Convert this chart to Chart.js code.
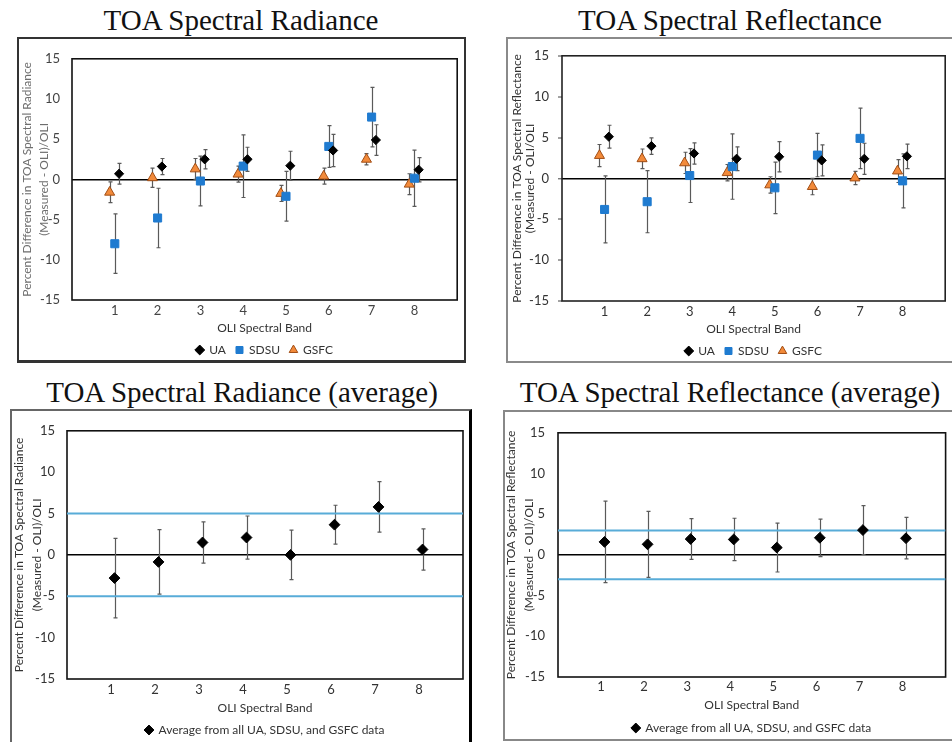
<!DOCTYPE html>
<html lang="en">
<head>
<meta charset="utf-8">
<title>OLI TOA percent difference by spectral band</title>
<script src="https://cdn.jsdelivr.net/npm/chart.js@4.4.1/dist/chart.umd.min.js"></script>
<style>
  html, body { margin: 0; padding: 0; background: #fff; }
  body { position: relative; width: 952px; height: 742px; overflow: hidden; }
  .title { position: absolute; font-family: "Liberation Serif", "Times New Roman", serif; font-size: 29px;
           line-height: 1; color: #111; white-space: nowrap; transform: translateX(-50%); }
  .box { position: absolute; box-sizing: border-box; pointer-events: none; }
  canvas { position: absolute; }
</style>
</head>
<body>
<div class="title" style="left:241px; top:6px;">TOA Spectral Radiance</div>
<div class="title" style="left:730px; top:6px;">TOA Spectral Reflectance</div>
<div class="title" style="left:242px; top:378px;">TOA Spectral Radiance (average)</div>
<div class="title" style="left:730px; top:378px;">TOA Spectral Reflectance (average)</div>

<canvas id="c1"></canvas>
<canvas id="c2"></canvas>
<canvas id="c3"></canvas>
<canvas id="c4"></canvas>

<div class="box" style="left:17px; top:37px; width:449px; height:326px; border:2px solid #333; border-bottom-width:3px;"></div>
<div class="box" style="left:506px; top:37px; width:460px; height:326px; border:2px solid #8a8a8a;"></div>
<div class="box" style="left:10px; top:409px; width:462px; height:340px; border:2px solid #666; border-right:3px solid #000;"></div>
<div class="box" style="left:503px; top:410px; width:460px; height:331px; border:2px solid #888;"></div>

<script>
// OLI spectral bands on the x axis, percent-difference ticks on the y axis
const bands = [1, 2, 3, 4, 5, 6, 7, 8];
const yTickValues = [-15, -10, -5, 0, 5, 10, 15];

// TOA spectral radiance: (Measured - OLI)/OLI in %, with 1-sigma spread
const radUA       = [0.7, 1.6, 2.5, 2.5, 1.7, 3.6, 4.9, 1.2];
const radUAErr    = [1.3, 1.0, 1.2, 1.5, 1.8, 2.0, 1.9, 1.5];
const radSDSU     = [-8.0, -4.8, -0.2, 1.65, -2.1, 4.1, 7.75, 0.15];
const radSDSUErr  = [3.7, 3.7, 3.1, 3.9, 3.1, 2.6, 3.7, 3.5];
const radGSFC     = [-1.6, 0.2, 1.3, 0.65, -1.75, 0.4, 2.5, -0.6];
const radGSFCErr  = [1.3, 1.2, 1.3, 1.0, 1.0, 1.0, 0.7, 1.3];

// TOA spectral reflectance
const refUA       = [5.1, 3.95, 3.05, 2.4, 2.65, 2.2, 2.4, 2.7];
const refUAErr    = [1.4, 1.0, 1.3, 1.45, 1.85, 1.9, 1.9, 1.5];
const refSDSU     = [-3.8, -2.85, 0.35, 1.45, -1.15, 2.85, 4.9, -0.3];
const refSDSUErr  = [4.1, 3.8, 3.3, 4.0, 3.15, 2.65, 3.7, 3.3];
const refGSFC     = [2.8, 2.4, 1.9, 0.7, -0.8, -1.0, 0.05, 0.9];
const refGSFCErr  = [1.35, 1.2, 1.3, 1.0, 1.0, 1.0, 0.8, 1.4];

// averages over all three teams
const radAvg      = [-2.8, -0.85, 1.5, 2.1, 0.0, 3.65, 5.8, 0.65];
const radAvgErr   = [4.8, 3.9, 2.5, 2.6, 3.0, 2.35, 3.05, 2.5];
const refAvg      = [1.6, 1.3, 1.95, 1.9, 0.9, 2.1, 3.05, 2.05];
const refAvgErr   = [5.0, 4.05, 2.5, 2.6, 3.0, 2.3, 3.0, 2.55];

// requirement bands (+/- %)
const radianceLimit = 5;
const reflectanceLimit = 3;

const avgLabel = 'Average from all UA, SDSU, and GSFC data';
const xTitle = 'OLI Spectral Band';

const FONT = 'Lato, "Open Sans", "DejaVu Sans", sans-serif';

// marker look and small horizontal offset so the teams do not overlap
const markerStyles = {
  UA:   { pointStyle: 'rectRot',  pointRadius: 4.6, backgroundColor: '#000',    borderColor: '#000',    borderWidth: 1, shift: 0.1 },
  SDSU: { pointStyle: 'rect',     pointRadius: 5.7, backgroundColor: '#1f7bd0', borderColor: '#1f7bd0', borderWidth: 1, shift: 0 },
  GSFC: { pointStyle: 'triangle', pointRadius: 5.8, backgroundColor: '#f28a3a', borderColor: '#a14d14', borderWidth: 1, shift: -0.12 },
  AVG:  { pointStyle: 'rectRot',  pointRadius: 5.4, backgroundColor: '#000',    borderColor: '#000',    borderWidth: 1, shift: 0.08 }
};

// vertical error bars with short caps, drawn underneath the markers
const errorBars = {
  id: 'errorBars',
  beforeDatasetsDraw(chart) {
    const { ctx, scales: { x, y } } = chart;
    chart.data.datasets.forEach((ds, i) => {
      if (!ds.errors || !chart.isDatasetVisible(i)) return;
      ctx.save();
      ctx.strokeStyle = '#5a5a5a';
      ctx.lineWidth = 1.2;
      ds.data.forEach((p, j) => {
        const e = ds.errors[j];
        const px = Math.round(x.getPixelForValue(p.x)) + 0.5;
        const top = y.getPixelForValue(p.y + e);
        const bot = y.getPixelForValue(p.y - e);
        ctx.beginPath();
        ctx.moveTo(px, top); ctx.lineTo(px, bot);
        ctx.moveTo(px - 2, top); ctx.lineTo(px + 2, top);
        ctx.moveTo(px - 2, bot); ctx.lineTo(px + 2, bot);
        ctx.stroke();
      });
      ctx.restore();
    });
  }
};

// rectangle around the plotting area
const plotFrame = {
  id: 'plotFrame',
  beforeDatasetsDraw(chart, args, opts) {
    const { ctx, chartArea: a } = chart;
    ctx.save();
    ctx.strokeStyle = opts.color || '#000';
    ctx.lineWidth = opts.width || 1.5;
    ctx.strokeRect(a.left, a.top, a.right - a.left, a.bottom - a.top);
    ctx.restore();
  }
};

const panels = [
  { canvas: 'c1', left: 19, top: 39, width: 445, plot: { l: 72, t: 53, r: 459, b: 300 },
    yTitleX: 27, yTitleLH: 17, yTickGap: 12, yTickMark: 0, xTickY: 310.5, xTitleY: 328, legendY: 350, legendPad: 10,
    yTitle: ['Percent Difference in TOA Spectral Radiance', '(Measured - OLI)/OLI'],
    series: [['UA', radUA, radUAErr], ['SDSU', radSDSU, radSDSUErr], ['GSFC', radGSFC, radGSFCErr]],
    limit: null, tickColor: '#444', yTitleColor: '#6e6e6e', textColor: '#333', frameColor: '#111' },
  { canvas: 'c2', left: 508, top: 39, width: 444, plot: { l: 562, t: 53, r: 947, b: 301 },
    yTitleX: 517.5, yTitleLH: 13, yTickGap: 13, yTickMark: 4, xTickY: 312, xTitleY: 329, legendY: 351, legendPad: 10,
    yTitle: ['Percent Difference in TOA Spectral Reflectance', '(Measured - OLI/OLI'],
    series: [['UA', refUA, refUAErr], ['SDSU', refSDSU, refSDSUErr], ['GSFC', refGSFC, refGSFCErr]],
    limit: null, tickColor: '#333', yTitleColor: '#333', textColor: '#333', frameColor: '#222' },
  { canvas: 'c3', left: 12, top: 411, width: 458, plot: { l: 67, t: 424, r: 463, b: 679 },
    yTitleX: 19.5, yTitleLH: 18, yTickGap: 12, yTickMark: 0, xTickY: 690, xTitleY: 708, legendY: 730, legendPad: 10,
    yTitle: ['Percent Difference in TOA Spectral Radiance', '(Measured - OLI)/OLI'],
    series: [['AVG', radAvg, radAvgErr]],
    limit: radianceLimit, tickColor: '#333', yTitleColor: '#333', textColor: '#333', frameColor: '#111' },
  { canvas: 'c4', left: 505, top: 412, width: 447, plot: { l: 558, t: 425, r: 950, b: 677 },
    yTitleX: 511, yTitleLH: 18.5, yTickGap: 13, yTickMark: 0, xTickY: 687, xTitleY: 705, legendY: 728, legendPad: 10,
    yTitle: ['Percent Difference in TOA Spectral Reflectance', '(Measured - OLI)/OLI'],
    series: [['AVG', refAvg, refAvgErr]],
    limit: reflectanceLimit, tickColor: '#333', yTitleColor: '#333', textColor: '#333', frameColor: '#111' }
];

function buildChart(p) {
  const cv = document.getElementById(p.canvas);
  const legendTop = p.legendY - p.legendPad - 6;
  const legendBottom = legendTop + 12 + p.legendPad + 10;
  const height = Math.ceil(legendBottom - p.top) + 1;
  cv.width = p.width; cv.height = height;
  cv.style.left = p.left + 'px'; cv.style.top = p.top + 'px';
  cv.style.width = p.width + 'px'; cv.style.height = height + 'px';

  const datasets = p.series.map(([name, vals, errs]) => {
    const m = markerStyles[name];
    return {
      label: name === 'AVG' ? avgLabel : name,
      data: bands.map((b, i) => ({ x: b + m.shift, y: vals[i] })),
      errors: errs,
      pointStyle: m.pointStyle,
      pointRadius: m.pointRadius,
      pointHoverRadius: m.pointRadius,
      backgroundColor: m.backgroundColor,
      borderColor: m.borderColor,
      borderWidth: m.borderWidth,
      showLine: false
    };
  });
  if (p.limit) {
    [p.limit, -p.limit].forEach(v => datasets.push({
      type: 'line', label: '', isLimit: true,
      data: [{ x: 0, y: v }, { x: 9, y: v }],
      borderColor: '#58acd8', borderWidth: 2, pointRadius: 0, fill: false
    }));
  }

  new Chart(cv, {
    type: 'scatter',
    data: { datasets },
    options: {
      responsive: false,
      animation: false,
      events: [],
      layout: { padding: { left: 0, top: p.plot.t - p.top, right: p.left + p.width - p.plot.r,
                           bottom: p.top + height - legendBottom } },
      plugins: {
        legend: {
          position: 'bottom', fullSize: false,
          labels: {
            usePointStyle: true, boxWidth: 7, boxHeight: 7, padding: p.legendPad,
            color: p.textColor, font: { family: FONT, size: 12 },
            filter: (item, data) => !data.datasets[item.datasetIndex].isLimit
          }
        },
        tooltip: { enabled: false },
        plotFrame: { color: p.frameColor, width: 1.6 }
      },
      scales: {
        x: {
          type: 'linear', min: 0, max: 9,
          afterBuildTicks: s => { s.ticks = bands.map(v => ({ value: v })); },
          afterFit: s => { s.height = legendTop - p.plot.b; },
          grid: { display: false, drawTicks: false },
          border: { display: false },
          ticks: { padding: p.xTickY - p.plot.b - 7.8, color: p.tickColor, autoSkip: false, maxRotation: 0,
                   font: { family: FONT, size: 13 } },
          title: { display: true, text: xTitle, color: p.textColor,
                   font: { family: FONT, size: 12, lineHeight: 1 },
                   padding: { top: 0, bottom: Math.max(0, legendTop - p.xTitleY - 6) } }
        },
        y: {
          type: 'linear', min: -15, max: 15,
          afterBuildTicks: s => { s.ticks = yTickValues.map(v => ({ value: v })); },
          afterFit: s => { s.width = p.plot.l - p.left; },
          grid: {
            color: c => (c.tick && c.tick.value === 0) ? '#000' : 'rgba(0,0,0,0)',
            lineWidth: c => (c.tick && c.tick.value === 0) ? 1.6 : 0,
            drawTicks: p.yTickMark > 0, tickLength: p.yTickMark, tickColor: '#444', tickWidth: 1
          },
          border: { display: false },
          ticks: { padding: p.yTickGap - p.yTickMark, color: p.tickColor, font: { family: FONT, size: 13 } },
          title: { display: true, text: p.yTitle, color: p.yTitleColor,
                   font: { family: FONT, size: 12, lineHeight: p.yTitleLH / 12 },
                   padding: { top: p.yTitleX - p.left - p.yTitleLH / 2, bottom: 0 } }
        }
      }
    },
    plugins: [errorBars, plotFrame]
  });
}

panels.forEach(buildChart);
</script>
</body>
</html>
